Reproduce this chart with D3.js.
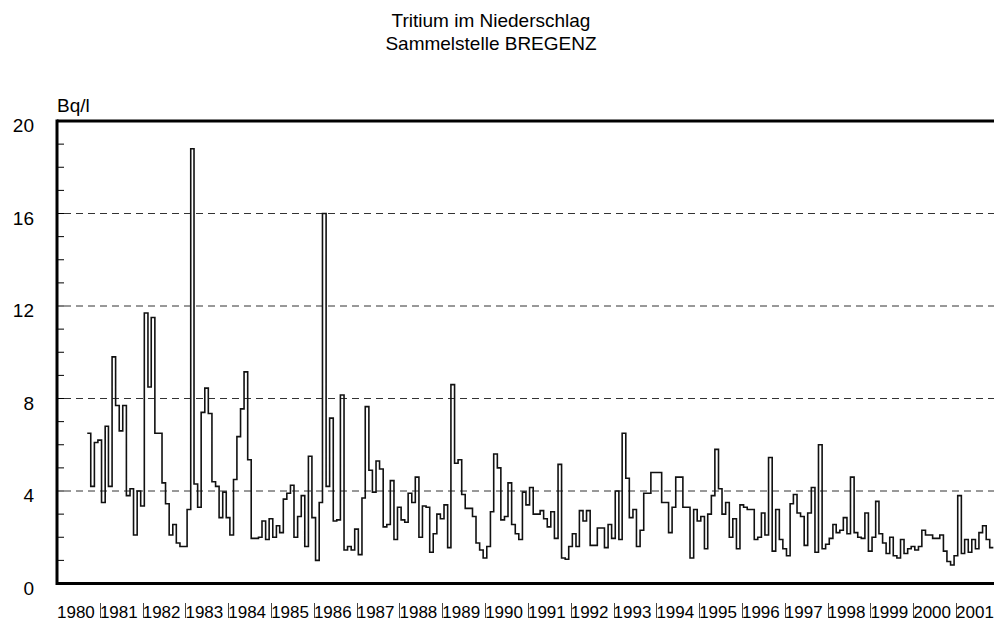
<!DOCTYPE html>
<html>
<head>
    <meta charset="utf-8">
    <title>Tritium im Niederschlag</title>
    <script src="https://d3js.org/d3.v7.min.js"></script>
    <style>
        body{
            margin:0;
            background:#fff;
            font-family:Arial, "Liberation Sans", sans-serif;
        }
    </style>
</head>
<body>
<div id="chart"></div>
<script type="text/javascript">
    // monthly tritium values, Bq/l, first sampling period starts mid september 1980
    var firstSample = new Date(1980, 8, 15)
    var bq1980_84 = [6.5, 4.2, 6.1, 6.2,
        3.5, 6.8, 4.2, 9.8, 7.7, 6.6, 7.7, 3.8, 4.1, 2.1, 4.0, 3.35,
        11.7, 8.5, 11.5, 6.5, 6.5, 4.35, 3.45, 2.1, 2.55, 1.75, 1.6, 1.6,
        3.2, 18.8, 4.3, 3.3, 7.4, 8.45, 7.35, 4.4, 4.2, 2.85, 3.95, 2.85,
        2.1, 4.5, 6.35, 7.55, 9.15, 5.35, 1.95, 1.95, 2.0, 2.7, 1.9, 2.8]
    var bq1985_89 = [2.0, 2.5, 2.2, 3.65, 3.9, 4.25, 2.0, 2.9, 3.8, 1.6, 5.5, 2.85,
        1.0, 3.5, 16.0, 4.2, 7.15, 2.7, 2.75, 8.15, 1.45, 1.6, 1.45, 2.35,
        1.25, 3.7, 7.65, 4.9, 3.95, 5.3, 4.95, 2.45, 2.55, 4.45, 1.9, 3.3,
        2.75, 2.65, 3.9, 3.5, 4.6, 2.0, 3.35, 3.3, 1.35, 2.15, 3.0, 2.8,
        3.4, 1.55, 8.6, 5.2, 5.35, 3.85, 3.25, 3.25, 2.9, 1.75, 1.45, 1.1]
    var bq1990_94 = [1.6, 3.1, 5.6, 5.0, 2.75, 2.9, 4.35, 2.55, 2.15, 1.9, 3.95, 3.4,
        4.15, 3.0, 3.0, 3.15, 2.8, 2.45, 3.1, 1.95, 5.15, 1.1, 1.05, 1.6,
        2.15, 1.6, 3.15, 2.7, 3.15, 1.65, 1.65, 2.4, 2.4, 1.55, 2.55, 1.95,
        4.0, 1.9, 6.5, 4.55, 2.85, 3.2, 1.6, 2.3, 3.9, 3.9, 4.8, 4.8,
        4.8, 3.5, 3.5, 2.2, 3.3, 4.6, 4.6, 3.3, 3.3, 1.1, 3.2, 2.7]
    var bq1995_99 = [2.9, 1.5, 3.0, 3.8, 5.8, 4.1, 3.0, 3.5, 2.0, 2.8, 1.5, 3.4,
        3.3, 3.2, 3.2, 1.9, 2.0, 3.05, 2.1, 5.45, 1.4, 3.2, 1.9, 1.5,
        1.2, 3.45, 3.85, 3.05, 2.9, 1.65, 3.05, 4.15, 1.35, 6.0, 1.5, 1.7,
        1.95, 2.55, 2.2, 2.3, 2.85, 2.15, 4.6, 2.2, 2.0, 1.95, 3.05, 1.4,
        2.0, 3.55, 2.15, 1.75, 1.3, 2.0, 1.2, 1.1, 1.9, 1.3, 1.5, 1.6]
    var bq2000_01 = [1.45, 1.6, 2.3, 2.1, 2.1, 1.95, 1.95, 2.1, 1.4, 0.95, 0.8, 1.2,
        3.8, 1.3, 1.9, 1.35, 1.9, 1.5, 2.2, 2.5, 1.9, 1.55]

    var years = d3.range(1980, 2002)
    var yTicks = [0, 4, 8, 12, 16, 20]
    var yMinor = d3.range(1, 20).filter(function(v){ return v % 4 != 0 })
    var titleLines = ["Tritium im Niederschlag", "Sammelstelle BREGENZ"]
    var unit = "Bq/l"

    var w = 994
    var h = 621
    var plotL = 57, plotR = 993, plotT = 121, plotB = 583.5

    var values = bq1980_84.concat(bq1985_89, bq1990_94, bq1995_99, bq2000_01)
    var points = values.map(function(v, i){
        return {date: d3.timeMonth.offset(firstSample, i), v: v}
    })
    // closing point so the last month gets its own step
    points.push({date: d3.timeMonth.offset(firstSample, values.length), v: values[values.length - 1]})

    var svg = d3.select("#chart").append("svg")
        .attr("width", w)
        .attr("height", h)

    var xScale = d3.scaleTime()
        .domain([new Date(1980, 0, 1), new Date(2001, 10, 12)])
        .range([plotL, plotR])
    var yScale = d3.scaleLinear().domain([0, 20]).range([plotB, plotT])

    svg.selectAll(".title")
        .data(titleLines)
        .enter()
        .append("text")
        .attr("class", "title")
        .text(function(d){ return d })
        .attr("x", 491)
        .attr("y", function(d, i){ return 27 + i * 23 })
        .attr("text-anchor", "middle")
        .style("font-size", "19px")

    svg.append("text").text(unit)
        .attr("x", plotL)
        .attr("y", 112)
        .style("font-size", "19px")

    // dashed grid
    svg.selectAll(".grid")
        .data(yTicks.filter(function(d){ return d > 0 && d < 20 }))
        .enter()
        .append("line")
        .attr("class", "grid")
        .attr("x1", plotL + 7)
        .attr("x2", plotR + 2)
        .attr("y1", function(d){ return yScale(d) })
        .attr("y2", function(d){ return yScale(d) })
        .attr("stroke", "#333")
        .attr("stroke-width", 1)
        .attr("stroke-dasharray", "7,5")

    // ticks inside the plot
    svg.selectAll(".ytick")
        .data(yMinor.concat(yTicks))
        .enter()
        .append("line")
        .attr("class", "ytick")
        .attr("x1", plotL)
        .attr("x2", plotL + 7)
        .attr("y1", function(d){ return yScale(d) })
        .attr("y2", function(d){ return yScale(d) })
        .attr("stroke", "#000")
        .attr("stroke-width", 1)

    svg.selectAll(".ylabel")
        .data(yTicks)
        .enter()
        .append("text")
        .attr("class", "ylabel")
        .text(function(d){ return d })
        .attr("x", 34)
        .attr("y", function(d){ return yScale(d) + 11 })
        .attr("text-anchor", "end")
        .style("font-size", "19px")

    svg.append("clipPath").attr("id", "plot")
        .append("rect")
        .attr("x", plotL)
        .attr("y", plotT)
        .attr("width", plotR - plotL + 1)
        .attr("height", plotB - plotT)

    var line = d3.line()
        .x(function(d){ return xScale(d.date) })
        .y(function(d){ return yScale(d.v) })
        .curve(d3.curveStepAfter)

    svg.append("path")
        .datum(points)
        .attr("d", line)
        .attr("clip-path", "url(#plot)")
        .attr("fill", "none")
        .attr("stroke", "#111")
        .attr("stroke-width", 1.6)

    // frame: left axis, top and bottom
    svg.append("line")
        .attr("x1", plotL).attr("x2", plotL)
        .attr("y1", plotT - 1.5).attr("y2", plotB + 1.5)
        .attr("stroke", "#000").attr("stroke-width", 3)
    svg.append("line")
        .attr("x1", plotL).attr("x2", w)
        .attr("y1", plotT).attr("y2", plotT)
        .attr("stroke", "#000").attr("stroke-width", 3)
    svg.append("line")
        .attr("x1", plotL).attr("x2", w)
        .attr("y1", plotB).attr("y2", plotB)
        .attr("stroke", "#000").attr("stroke-width", 3)

    svg.selectAll(".xtick")
        .data(years.slice(1))
        .enter()
        .append("line")
        .attr("class", "xtick")
        .attr("x1", function(d){ return Math.round(xScale(new Date(d, 0, 1))) + 0.5 })
        .attr("x2", function(d){ return Math.round(xScale(new Date(d, 0, 1))) + 0.5 })
        .attr("y1", 603)
        .attr("y2", 618)
        .attr("stroke", "#444")
        .attr("stroke-width", 1)

    svg.selectAll(".xlabel")
        .data(years)
        .enter()
        .append("text")
        .attr("class", "xlabel")
        .text(function(d){ return d })
        .attr("x", function(d){ return xScale(new Date(d, 0, 1)) })
        .attr("y", 618)
        .style("font-size", "17px")
</script>
</body>
</html>
